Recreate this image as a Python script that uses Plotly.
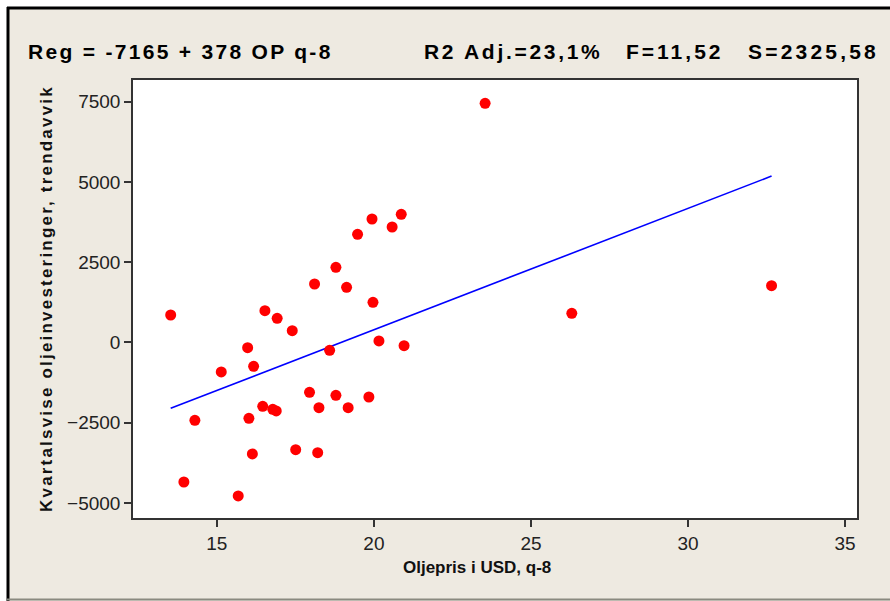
import plotly.graph_objects as go

# Oil price (USD, lagged 8 quarters) vs quarterly oil investment deviation from trend
oil_price = [13.53, 13.95, 14.30, 15.14, 15.98, 16.02, 16.17, 16.13, 15.68,
             16.46, 16.53, 16.78, 16.89, 16.92, 17.40, 17.51, 17.95, 18.11,
             18.21, 18.25, 18.59, 18.79, 19.13, 18.79, 19.18, 19.84, 19.97,
             20.16, 20.96, 19.48, 19.94, 20.58, 20.87, 23.54, 26.30, 32.66]
invest_dev = [856, -4343, -2422, -918, -162, -2360, -741, -3471, -4778,
              -1986, 990, -2080, -2132, 753, 367, -3337, -1550, 1821,
              -3430, -2029, -243, -1644, 1718, 2341, -2029, -1697, 1251,
              47, -100, 3368, 3845, 3596, 3991, 7446, 909, 1768]

# Fitted regression: Reg = -7165 + 378 * OP
intercept = -7165
slope = 378

x_ticks = [15, 20, 25, 30, 35]
y_ticks = [-5000, -2500, 0, 2500, 5000, 7500]

fit_x = [min(oil_price), max(oil_price)]
fit_y = [intercept + slope * v for v in fit_x]

BG = "#EEEAE1"
AX = "#333333"
TICK_FONT = dict(family="Liberation Sans, Arial, sans-serif", size=19, color="#222222")
BOLD = "Liberation Sans, Arial, sans-serif"

fig = go.Figure()
fig.add_trace(go.Scatter(x=fit_x, y=fit_y, mode="lines",
                         line=dict(color="#0000FF", width=1.6),
                         hoverinfo="skip", showlegend=False))
fig.add_trace(go.Scatter(x=oil_price, y=invest_dev, mode="markers",
                         marker=dict(color="#FF0000", size=11, line=dict(width=0)),
                         showlegend=False))

# plot area in pixels: x 133..857, y 80..518
L, R, T, B = 133, 857, 80, 518
W, H = R - L, B - T


def px(x):
    return (x - L) / W


def py(y):
    return (B - y) / H


fig.update_layout(
    width=890, height=601,
    margin=dict(l=L, r=890 - R, t=T, b=601 - B, pad=0),
    paper_bgcolor=BG, plot_bgcolor="white",
    showlegend=False,
    xaxis=dict(range=[12.33, 35.38], tickvals=x_ticks, ticks="outside",
               ticklen=7, tickwidth=1.5, tickcolor=AX, showgrid=False,
               zeroline=False, showline=True, linecolor=AX, linewidth=1.5,
               mirror=True, tickfont=TICK_FONT),
    yaxis=dict(range=[-5464, 8172], tickvals=y_ticks, ticks="outside",
               ticklen=7, tickwidth=1.5, tickcolor=AX, showgrid=False,
               zeroline=False, showline=True, linecolor=AX, linewidth=1.5,
               mirror=True, tickfont=TICK_FONT),
)


def spaced(txt, sp):
    return f'<span style="letter-spacing:{sp}px"><b>{txt}</b></span>'


TITLE_FONT = dict(family=BOLD, size=21, color="black")
annotations = [
    dict(text=spaced("Reg = -7165 + 378 OP q-8", 2.3),
         x=px(26), y=py(52), xanchor="left", yanchor="middle", font=TITLE_FONT),
    dict(text=spaced("R2 Adj.=23,1%", 2.7),
         x=px(422), y=py(52), xanchor="left", yanchor="middle", font=TITLE_FONT),
    dict(text=spaced("F=11,52", 3.0),
         x=px(624), y=py(52), xanchor="left", yanchor="middle", font=TITLE_FONT),
    dict(text=spaced("S=2325,58", 3.2),
         x=px(746), y=py(52), xanchor="left", yanchor="middle", font=TITLE_FONT),
    dict(text="<b>Oljepris i USD, q-8</b>",
         x=px(477), y=py(567), xanchor="center", yanchor="middle",
         font=dict(family=BOLD, size=17, color="#111111")),
    dict(text=spaced("Kvartalsvise oljeinvesteringer, trendavvik", 2.2),
         x=px(46), y=py(299), xanchor="center", yanchor="middle", textangle=-90,
         font=dict(family=BOLD, size=17, color="#111111")),
]
for a in annotations:
    a.update(xref="paper", yref="paper", showarrow=False)
fig.update_layout(annotations=annotations)

# outer frame: white outside, black top/left edge, grey bottom edge
shapes = [
    dict(type="rect", x0=px(-5), x1=px(900), y0=py(0), y1=py(7),
         fillcolor="white", line=dict(width=0)),
    dict(type="rect", x0=px(-5), x1=px(7), y0=py(610), y1=py(0),
         fillcolor="white", line=dict(width=0)),
    dict(type="line", x0=px(7), x1=px(900), y0=py(8), y1=py(8),
         line=dict(color="black", width=3)),
    dict(type="line", x0=px(8), x1=px(8), y0=py(7), y1=py(610),
         line=dict(color="black", width=3)),
    dict(type="line", x0=px(7), x1=px(900), y0=py(599.5), y1=py(599.5),
         line=dict(color="#8A8A80", width=2)),
]
for s in shapes:
    s.update(xref="paper", yref="paper", layer="above")
fig.update_layout(shapes=shapes)

fig.write_html("out.html")
